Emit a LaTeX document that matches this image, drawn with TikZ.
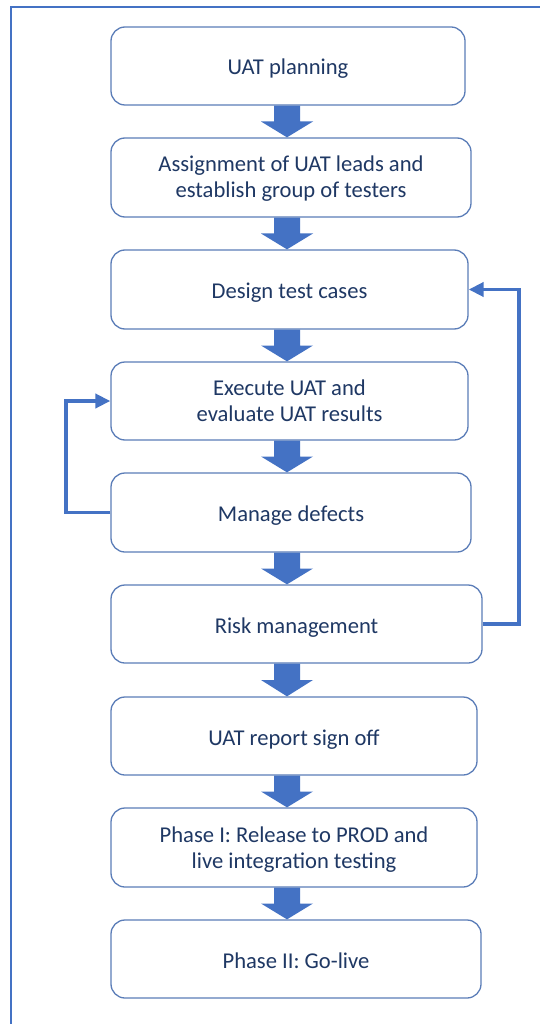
\documentclass[tikz,border=0pt]{standalone}
\usepackage{fontspec}
\setmainfont{Carlito}
\usetikzlibrary{calc,arrows.meta}
\definecolor{boxedge}{HTML}{5B7DB8}
\definecolor{flowblue}{HTML}{4472C4}
\definecolor{labeltext}{HTML}{1F3864}
\tikzset{
  stage/.style={draw=boxedge, line width=1.3pt, rounded corners=14pt, fill=white,
    align=center, text=labeltext, inner sep=0pt,
    font=\fontsize{22.6}{26}\selectfont},
  % fixed struts so every label sits at the same depth in its box
  oneline/.style={stage,
    execute at begin node={\rule{0pt}{25pt}},
    execute at end node={\rule[-7pt]{0pt}{7pt}}},
  twoline/.style={stage,
    execute at begin node={\rule{0pt}{48.8pt}},
    execute at end node={\rule[-7.8pt]{0pt}{7.8pt}}},
  loopline/.style={draw=flowblue, line width=3.8pt,
    -{Triangle[length=15pt,width=14pt]}},
}
% thick block arrow from the bottom of one stage to the top of the next
\newcommand{\blockarrow}[2]{%
  \coordinate (ba-t) at (#1.south -| axis);
  \coordinate (ba-b) at (#2.north -| axis);
  \coordinate (ba-m) at ($(ba-t)!0.5!(ba-b)$);
  \fill[flowblue] ([xshift=-13pt]ba-t) -- ([xshift=-13pt]ba-m) -- ([xshift=-26pt]ba-m)
    -- (ba-b) -- ([xshift=26pt]ba-m) -- ([xshift=13pt]ba-m) -- ([xshift=13pt]ba-t) -- cycle;
}
\begin{document}
\begin{tikzpicture}[x=1pt,y=-1pt]
\useasboundingbox (0,0) rectangle (540,1024);
\fill[white] (0,0) rectangle (540,1024);
% page frame
\draw[flowblue, line width=2pt] (11,1024) -- (11,7) -- (540,7);
\coordinate (axis) at (287,0);

\node[oneline, minimum width=354, minimum height=78] (s1) at (288,66) {UAT planning};
\node[twoline, minimum width=360, minimum height=79] (s2) at (291,177.5) {Assignment of UAT leads and\\establish group of testers};
\node[oneline, minimum width=357, minimum height=79] (s3) at (289.5,289.5) {Design test cases};
\node[twoline, minimum width=357, minimum height=78] (s4) at (289.5,401) {Execute UAT and\\evaluate UAT results};
\node[oneline, minimum width=360, minimum height=79] (s5) at (291,512.5) {Manage defects};
\node[oneline, minimum width=371, minimum height=78] (s6) at (296.5,624) {Risk management};
\node[oneline, minimum width=366, minimum height=78] (s7) at (294,736) {UAT report sign off};
\node[twoline, minimum width=366, minimum height=79] (s8) at (294,847.5) {Phase I: Release to PROD and\\live integration testing};
\node[oneline, minimum width=370, minimum height=78] (s9) at (296,959) {Phase II: Go-live};

\blockarrow{s1}{s2}
\blockarrow{s2}{s3}
\blockarrow{s3}{s4}
\blockarrow{s4}{s5}
\blockarrow{s5}{s6}
\blockarrow{s6}{s7}
\blockarrow{s7}{s8}
\blockarrow{s8}{s9}

% feedback loops
\draw[loopline] (s5.west) -- ++(-44,0) |- (s4.west);
\draw[loopline] (s6.east) -- ++(36,0) |- (s3.east);
\end{tikzpicture}
\end{document}
